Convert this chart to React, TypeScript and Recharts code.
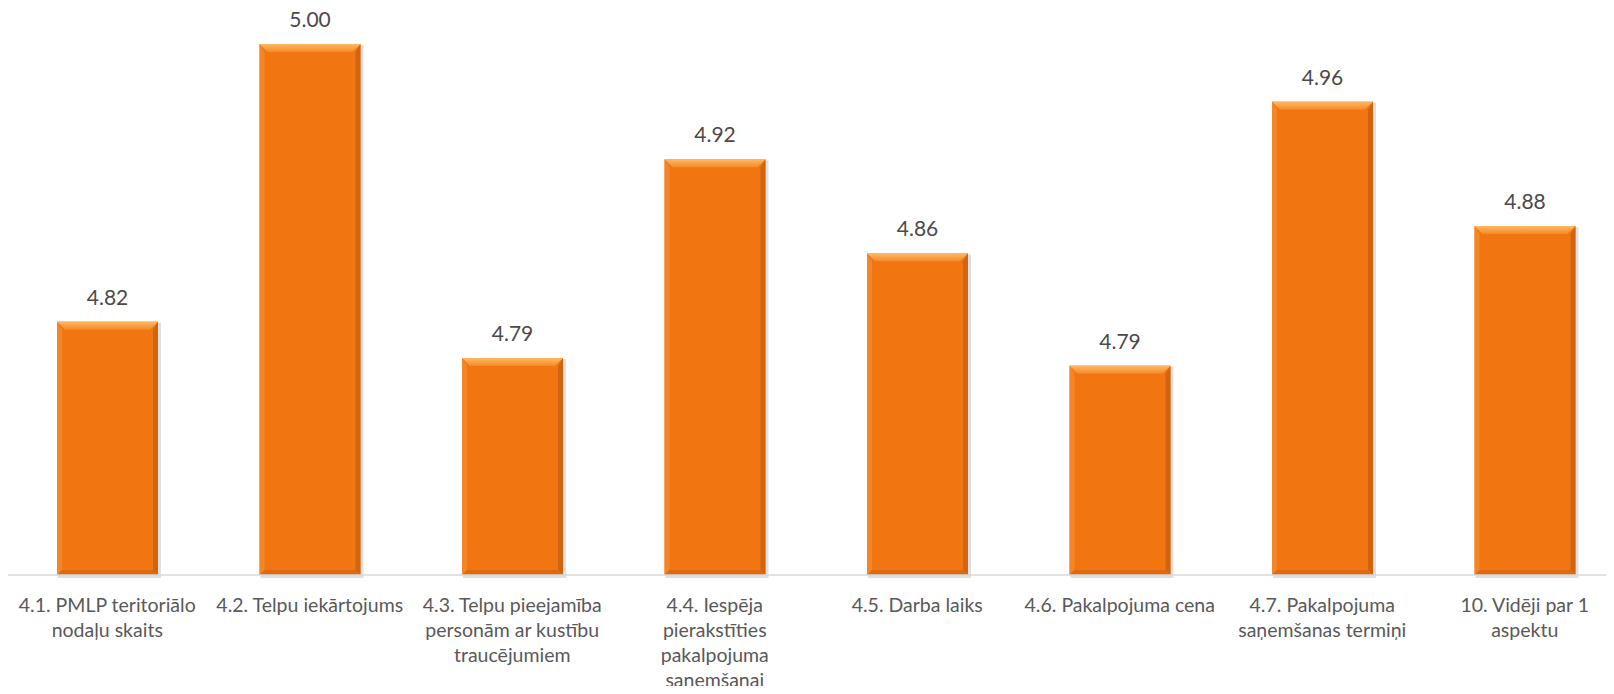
import React from "react";
import { BarChart, Bar, XAxis, YAxis, LabelList } from "recharts";

const categories: string[] = [
  "4.1. PMLP teritoriālo nodaļu skaits",
  "4.2. Telpu iekārtojums",
  "4.3. Telpu pieejamība personām ar kustību traucējumiem",
  "4.4. Iespēja pierakstīties pakalpojuma saņemšanai",
  "4.5. Darba laiks",
  "4.6. Pakalpojuma cena",
  "4.7. Pakalpojuma saņemšanas termiņi",
  "10. Vidēji par 1 aspektu",
];

const tickLines: string[][] = [
  ["4.1. PMLP teritoriālo", "nodaļu skaits"],
  ["4.2. Telpu iekārtojums"],
  ["4.3. Telpu pieejamība", "personām ar kustību", "traucējumiem"],
  ["4.4. Iespēja", "pierakstīties", "pakalpojuma", "saņemšanai"],
  ["4.5. Darba laiks"],
  ["4.6. Pakalpojuma cena"],
  ["4.7. Pakalpojuma", "saņemšanas termiņi"],
  ["10. Vidēji par 1", "aspektu"],
];

const values: number[] = [4.817, 5.0, 4.793, 4.924, 4.862, 4.788, 4.962, 4.88];

const yDomain: [number, number] = [4.65, 5.0];

const data = categories.map((c, i) => ({ name: c, value: values[i] }));

const FONT = "Lato, 'Open Sans', sans-serif";

const renderBar = (props: any) => {
  const x = Number(props.x);
  const y = Number(props.y);
  const width = Number(props.width);
  const height = Number(props.height);
  if (!(width > 0) || !(height > 0)) return <g />;
  const b = 8;
  const s = 5;
  return (
    <g>
      <rect x={x + 1} y={y + 1} width={width + 2} height={height + 2} fill="#000" opacity={0.12} />
      <rect x={x} y={y} width={width} height={height} fill="#F17612" />
      <polygon
        points={`${x},${y} ${x + width},${y} ${x + width - b},${y + b} ${x + b},${y + b}`}
        fill="url(#topBevel)"
      />
      <polygon
        points={`${x + width},${y} ${x + width},${y + height} ${x + width - s},${y + height - s} ${x + width - s},${y + b}`}
        fill="#C9610F"
        opacity={0.8}
      />
      <polygon
        points={`${x},${y} ${x + s},${y + b} ${x + s},${y + height - s} ${x},${y + height}`}
        fill="#F48C2E"
        opacity={0.8}
      />
      <polygon
        points={`${x},${y + height} ${x + width},${y + height} ${x + width - s},${y + height - s} ${x + s},${y + height - s}`}
        fill="#DC6A10"
      />
    </g>
  );
};

const CategoryTick = (props: any) => {
  const { x, y, payload } = props;
  const lines = tickLines[payload.index] || [String(payload.value)];
  return (
    <text
      x={x}
      y={y + 29}
      textAnchor="middle"
      fill="#595959"
      fontSize={19.5}
      fontFamily={FONT}
    >
      {lines.map((l, i) => (
        <tspan key={i} x={x} dy={i === 0 ? 0 : 25}>
          {l}
        </tspan>
      ))}
    </text>
  );
};

export default function App() {
  return (
    <div style={{ position: "relative", margin: -8, width: 1614, height: 694, overflow: "hidden", background: "#fff" }}>
      <svg width={0} height={0} style={{ position: "absolute" }}>
        <defs>
          <linearGradient id="topBevel" x1="0" y1="0" x2="0" y2="1">
            <stop offset="0%" stopColor="#FDBA62" />
            <stop offset="100%" stopColor="#F6892A" />
          </linearGradient>
        </defs>
      </svg>
      <BarChart
        width={1640}
        height={694}
        data={data}
        margin={{ top: 44, right: 14, left: 6, bottom: 0 }}
        barSize={101}
      >
        <XAxis
          dataKey="name"
          interval={0}
          height={119}
          tickLine={false}
          axisLine={{ stroke: "#D9D9D9", strokeWidth: 1.5 }}
          tick={<CategoryTick />}
        />
        <YAxis domain={yDomain} width={0} tick={false} axisLine={false} tickLine={false} />
        <Bar dataKey="value" isAnimationActive={false} fill="#F17612" shape={renderBar}>
          <LabelList
            dataKey="value"
            position="top"
            offset={17}
            formatter={(v: any) => Number(v).toFixed(2)}
            fill="#4A4A4A"
            fontSize={21}
            fontFamily={FONT}
          />
        </Bar>
      </BarChart>
      <div style={{ position: "absolute", left: 3, top: 0, width: 2, height: 694, background: "#D6D6D6", zIndex: 5 }} />
    </div>
  );
}
